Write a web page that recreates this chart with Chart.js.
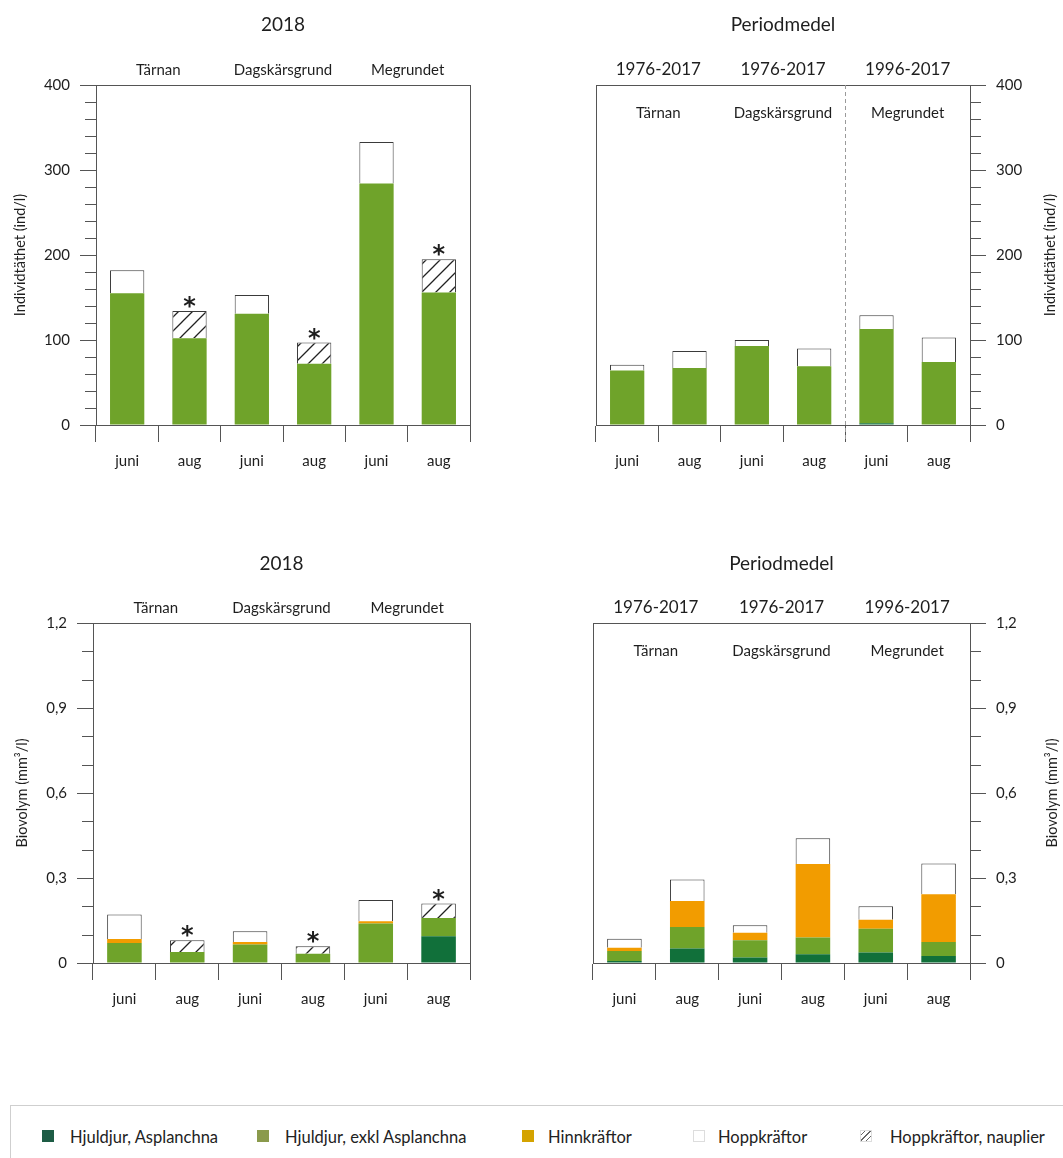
<!DOCTYPE html>
<html>
<head>
<meta charset="utf-8">
<script src="https://cdn.jsdelivr.net/npm/chart.js@4"></script>
<style>
  body { margin: 0; background: #fff; font-family: Lato, "Noto Sans", sans-serif; }
  #page { position: relative; width: 1063px; height: 1158px; overflow: hidden; }
  canvas { position: absolute; }
  #legend { position: absolute; left: 10px; top: 1105px; width: 1060px; height: 70px;
            border: 1px solid #cfcfcf; box-sizing: border-box; }
  .item { position: absolute; top: 21px; font-size: 16.5px; color: #222; white-space: nowrap; }
  .sw { position: absolute; top: 3px; width: 12px; height: 12px; box-sizing: border-box; }
</style>
</head>
<body>
<div id="page">
  <canvas id="c1" width="530" height="500" style="left:0;top:0"></canvas>
  <canvas id="c2" width="543" height="500" style="left:520px;top:0"></canvas>
  <canvas id="c3" width="530" height="500" style="left:0;top:540px"></canvas>
  <canvas id="c4" width="543" height="500" style="left:520px;top:540px"></canvas>
  <div id="legend"></div>
</div>
<script>
// categories and group labels
const months = ["juni", "aug", "juni", "aug", "juni", "aug"];
const stations = ["Tärnan", "Dagskärsgrund", "Megrundet"];
const periods = ["1976-2017", "1976-2017", "1996-2017"];
const asteriskBars = [false, true, false, true, false, true];

const seriesNames = ["Hjuldjur, Asplanchna", "Hjuldjur,  exkl Asplanchna", "Hinnkräftor", "Hoppkräftor", "Hoppkräftor, nauplier"];

// Individtäthet 2018 (ind/l)
const ind2018Asplanchna = [0, 0, 0, 0, 0, 0];
const ind2018Hjuldjur = [155, 102, 131, 72, 284, 156];
const ind2018Hinn = [0, 0, 0, 0, 0, 0];
const ind2018Hopp = [27, 0, 22, 0, 49, 0];
const ind2018Nauplier = [0, 32, 0, 25, 0, 39];

// Individtäthet periodmedel (ind/l)
const indMedAsplanchna = [0, 0, 0, 0, 2, 0];
const indMedHjuldjur = [64, 67, 93, 69, 111, 74];
const indMedHinn = [0, 0, 0, 0, 0, 0];
const indMedHopp = [7, 20, 7, 21, 16, 29];
const indMedNauplier = [0, 0, 0, 0, 0, 0];

// Biovolym 2018 (mm3/l)
const bio2018Asplanchna = [0, 0, 0, 0, 0, 0.094];
const bio2018Hjuldjur = [0.071, 0.039, 0.065, 0.033, 0.139, 0.065];
const bio2018Hinn = [0.014, 0, 0.009, 0, 0.008, 0];
const bio2018Hopp = [0.086, 0, 0.038, 0, 0.075, 0];
const bio2018Nauplier = [0, 0.041, 0, 0.026, 0, 0.051];

// Biovolym periodmedel (mm3/l)
const bioMedAsplanchna = [0.007, 0.051, 0.019, 0.031, 0.037, 0.025];
const bioMedHjuldjur = [0.035, 0.076, 0.061, 0.059, 0.084, 0.049];
const bioMedHinn = [0.012, 0.092, 0.027, 0.259, 0.032, 0.169];
const bioMedHopp = [0.032, 0.076, 0.026, 0.091, 0.047, 0.108];
const bioMedNauplier = [0, 0, 0, 0, 0, 0];

const FONT = "Lato, 'Noto Sans', sans-serif";
const TEXT = "#1e1e1e";
const AXIS = "#555";

// hatch pattern for nauplier
function makeHatch(spacing) {
    const c = document.createElement("canvas");
    c.width = spacing; c.height = spacing;
    const g = c.getContext("2d");
    g.fillStyle = "#fff";
    g.fillRect(0, 0, spacing, spacing);
    g.strokeStyle = "#222";
    g.lineWidth = 1.3;
    g.beginPath();
    g.moveTo(-2, spacing + 2); g.lineTo(spacing + 2, -2);
    g.moveTo(-2, 2); g.lineTo(2, -2);
    g.moveTo(spacing - 2, spacing + 2); g.lineTo(spacing + 2, spacing - 2);
    g.stroke();
    return g.createPattern(c, "repeat");
}

const colors = ["#11703a", "#6fa32a", "#f29c00", "#ffffff"];

function buildDatasets(values, hatchSpacing) {
    const fills = colors.concat([makeHatch(hatchSpacing)]);
    return values.map(function(v, i) {
        return {
            label: seriesNames[i],
            data: v,
            backgroundColor: fills[i],
            borderColor: "#3a3a3a",
            borderWidth: i >= 3 ? 1 : 0,
            categoryPercentage: 1,
            barPercentage: 0.55
        };
    });
}

// draws headers, box, minor ticks, axis title, asterisks and divider
const decorPlugin = {
    id: "decor",
    afterDraw(chart, args, o) {
        const ctx = chart.ctx;
        const a = chart.chartArea;
        const x = chart.scales.x;
        const y = chart.scales.y;
        ctx.save();

        // frame round the plot
        ctx.strokeStyle = AXIS;
        ctx.lineWidth = 1;
        ctx.strokeRect(Math.round(a.left) + 0.5, Math.round(a.top) + 0.5, Math.round(a.right - a.left), Math.round(a.bottom - a.top));

        // minor ticks
        const side = o.right ? 1 : -1;
        const edge = o.right ? a.right : a.left;
        ctx.beginPath();
        for (let v = y.min; v <= y.max + 1e-9; v += o.minorStep) {
            const py = Math.round(y.getPixelForValue(v)) + 0.5;
            ctx.moveTo(edge, py);
            ctx.lineTo(edge + side * 11, py);
        }
        ctx.stroke();

        // divider line
        if (o.divider) {
            const dx = Math.round((x.getPixelForValue(o.divider - 1) + x.getPixelForValue(o.divider)) / 2) + 0.5;
            ctx.setLineDash([4, 3]);
            ctx.strokeStyle = "#9a9a9a";
            ctx.beginPath();
            ctx.moveTo(dx, a.top);
            ctx.lineTo(dx, a.bottom + 17);
            ctx.stroke();
            ctx.setLineDash([]);
        }

        ctx.fillStyle = TEXT;
        ctx.textAlign = "center";
        ctx.textBaseline = "middle";
        const mid = (a.left + a.right) / 2;
        ctx.font = "19px " + FONT;
        ctx.fillText(o.title, mid, o.titleY);

        function pairs(labels, py, size) {
            ctx.font = size + "px " + FONT;
            labels.forEach(function(t, i) {
                const px = (x.getPixelForValue(2 * i) + x.getPixelForValue(2 * i + 1)) / 2;
                ctx.fillText(t, px, py);
            });
        }
        if (o.periods) {
            pairs(periods, o.groupY, 17);
            pairs(stations, o.innerY, 15);
        } else {
            pairs(stations, o.groupY, 15);
        }

        // axis title
        ctx.save();
        ctx.translate(o.axisTitleX, (a.top + a.bottom) / 2);
        ctx.rotate(-Math.PI / 2);
        ctx.font = "14.5px " + FONT;
        ctx.fillText(o.axisTitle, 0, 0);
        ctx.restore();

        // asterisks over the nauplier bars
        if (o.asterisk) {
            const last = chart.getDatasetMeta(chart.data.datasets.length - 1);
            ctx.font = "bold 24px 'DejaVu Sans', sans-serif";
            ctx.textBaseline = "alphabetic";
            asteriskBars.forEach(function(on, i) {
                if (!on) return;
                const bar = last.data[i];
                ctx.fillText("*", bar.x, bar.y + 3);
            });
        }
        ctx.restore();
    }
};

function makeChart(id, values, opts) {
    const yTicks = {
        color: TEXT,
        font: { family: FONT, size: 15 },
        padding: 10,
        stepSize: opts.step,
        callback: function(v) { return opts.fmt(v); }
    };
    return new Chart(document.getElementById(id), {
        type: "bar",
        data: { labels: months, datasets: buildDatasets(values, opts.hatch) },
        options: {
            responsive: false,
            animation: false,
            devicePixelRatio: 1,
            layout: { padding: opts.padding },
            plugins: {
                legend: { display: false },
                tooltip: { enabled: false },
                decor: opts.decor
            },
            scales: {
                x: {
                    stacked: true,
                    grid: { offset: true, drawOnChartArea: false, tickLength: 17, color: AXIS },
                    border: { color: AXIS },
                    ticks: { color: TEXT, font: { family: FONT, size: 15 }, padding: 10 },
                    afterFit: function(s) { s.height = opts.xHeight; }
                },
                y: {
                    stacked: true,
                    position: opts.decor.right ? "right" : "left",
                    min: 0,
                    max: opts.max,
                    grid: { drawOnChartArea: false, tickLength: 16, color: AXIS },
                    border: { color: AXIS },
                    ticks: yTicks,
                    afterFit: function(s) { s.width = opts.yWidth; }
                }
            }
        },
        plugins: [decorPlugin]
    });
}

const fmtInd = function(v) { return String(v); };
const fmtBio = function(v) { return v === 0 ? "0" : v.toFixed(1).replace(".", ","); };

makeChart("c1", [ind2018Asplanchna, ind2018Hjuldjur, ind2018Hinn, ind2018Hopp, ind2018Nauplier], {
    max: 400, step: 100, fmt: fmtInd, hatch: 14,
    padding: { top: 85, right: 60, left: 0, bottom: 0 }, yWidth: 96, xHeight: 75,
    decor: { title: "2018", titleY: 25, groupY: 70, minorStep: 20, axisTitle: "Individtäthet (ind/l)", axisTitleX: 20, asterisk: true }
});

makeChart("c2", [indMedAsplanchna, indMedHjuldjur, indMedHinn, indMedHopp, indMedNauplier], {
    max: 400, step: 100, fmt: fmtInd, hatch: 14,
    padding: { top: 85, right: 0, left: 76, bottom: 0 }, yWidth: 93, xHeight: 75,
    decor: { title: "Periodmedel", titleY: 25, groupY: 70, innerY: 113, periods: true, right: true, minorStep: 20, axisTitle: "Individtäthet (ind/l)", axisTitleX: 530, divider: 4 }
});

makeChart("c3", [bio2018Asplanchna, bio2018Hjuldjur, bio2018Hinn, bio2018Hopp, bio2018Nauplier], {
    max: 1.2, step: 0.3, fmt: fmtBio, hatch: 16,
    padding: { top: 83, right: 60, left: 0, bottom: 0 }, yWidth: 93, xHeight: 77,
    decor: { title: "2018", titleY: 24, groupY: 68, minorStep: 0.1, axisTitle: "Biovolym (mm³/l)", axisTitleX: 22, asterisk: true }
});

makeChart("c4", [bioMedAsplanchna, bioMedHjuldjur, bioMedHinn, bioMedHopp, bioMedNauplier], {
    max: 1.2, step: 0.3, fmt: fmtBio, hatch: 16,
    padding: { top: 83, right: 0, left: 73, bottom: 0 }, yWidth: 93, xHeight: 77,
    decor: { title: "Periodmedel", titleY: 24, groupY: 68, innerY: 111, periods: true, right: true, minorStep: 0.1, axisTitle: "Biovolym (mm³/l)", axisTitleX: 532 }
});

// legend below the charts
const legendColors = ["#1d5c45", "#8a9a4c", "#d4a300", "#ffffff", "hatch"];
const legendX = [31, 246, 511, 682, 849];
const legendGap = [28, 28, 26, 25, 30];
const legend = document.getElementById("legend");
seriesNames.forEach(function(name, i) {
    const item = document.createElement("div");
    item.className = "item";
    item.style.left = legendX[i] + "px";
    const sw = document.createElement("span");
    sw.className = "sw";
    if (legendColors[i] === "hatch") {
        sw.style.background = "repeating-linear-gradient(-45deg, #fff 0 3px, #666 3px 4px)";
        sw.style.border = "1px solid #ddd";
    } else {
        sw.style.background = legendColors[i];
        if (legendColors[i] === "#ffffff") sw.style.border = "1px solid #ddd";
    }
    const label = document.createElement("span");
    label.style.marginLeft = legendGap[i] + "px";
    label.textContent = name;
    item.appendChild(sw);
    item.appendChild(label);
    legend.appendChild(item);
});
</script>
</body>
</html>
